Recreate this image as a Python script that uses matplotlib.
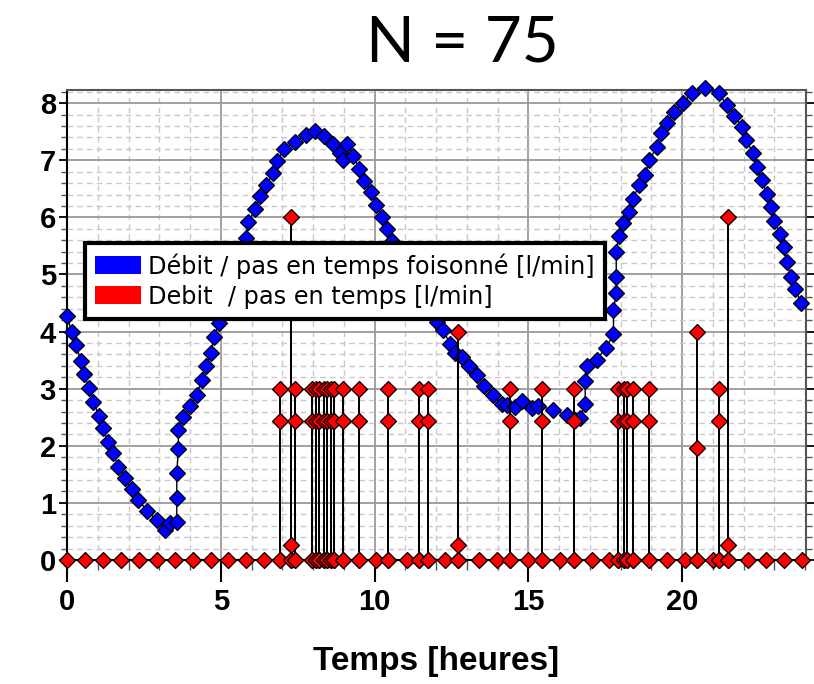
import matplotlib.pyplot as plt
from matplotlib.patches import Patch
from matplotlib.ticker import MultipleLocator

# Débit / pas en temps foisonné [l/min] (bleu)
blue_t = [0.00, 0.15, 0.29, 0.45, 0.55, 0.73, 0.86, 1.04, 1.16, 1.34, 1.51, 1.67,
          1.89, 2.10, 2.32, 2.61, 2.92, 3.19, 3.35, 3.57, 3.57, 3.57, 3.62, 3.62,
          3.78, 3.99, 4.22, 4.38, 4.51, 4.67, 4.78, 4.95, 5.10, 5.25, 5.40, 5.55,
          5.70, 5.82, 5.90, 6.12, 6.26, 6.47, 6.71, 6.84, 7.06, 7.42, 7.77, 8.07,
          8.36, 8.64, 8.88, 8.99, 9.10, 9.31, 9.51, 9.67, 9.89, 10.05, 10.24, 10.42,
          10.56, 10.72, 10.90, 11.08, 11.26, 11.44, 11.62, 11.80, 12.03, 12.24, 12.44,
          12.62, 12.84, 13.06, 13.33, 13.57, 13.85, 14.14, 14.30, 14.57, 14.79, 15.12,
          15.33, 15.80, 16.25, 16.53, 16.69, 16.85, 16.85, 16.91, 17.23, 17.53, 17.77,
          17.77, 17.86, 17.86, 17.86, 17.94, 18.08, 18.29, 18.42, 18.59, 18.80, 18.94,
          19.18, 19.32, 19.51, 19.75, 20.03, 20.32, 20.75, 21.19, 21.46, 21.70, 21.95,
          22.08, 22.31, 22.44, 22.60, 22.76, 22.89, 23.00, 23.19, 23.30, 23.41, 23.54,
          23.68, 23.88]
blue_v = [4.27, 4.00, 3.77, 3.49, 3.25, 3.01, 2.76, 2.53, 2.31, 2.07, 1.87, 1.63,
          1.43, 1.24, 1.05, 0.86, 0.70, 0.53, 0.64, 0.67, 1.08, 1.52, 1.94, 2.28,
          2.51, 2.70, 2.89, 3.16, 3.40, 3.63, 3.90, 4.15, 4.40, 4.65, 4.90, 5.15,
          5.40, 5.63, 5.91, 6.15, 6.37, 6.57, 6.77, 6.99, 7.19, 7.32, 7.44, 7.52,
          7.43, 7.28, 7.12, 7.00, 7.29, 7.08, 6.84, 6.64, 6.45, 6.22, 6.01, 5.80,
          5.59, 5.40, 5.20, 5.02, 4.86, 4.70, 4.55, 4.40, 4.17, 4.03, 3.79,
          3.62, 3.56, 3.39, 3.24, 3.05, 2.89, 2.73, 2.71, 2.68, 2.79, 2.66,
          2.70, 2.63, 2.54, 2.45, 2.48, 2.74, 3.14, 3.40, 3.51, 3.72, 3.95,
          4.38, 4.67, 4.96, 5.40, 5.68, 5.90, 6.10, 6.33, 6.57, 6.75, 7.00,
          7.24, 7.47, 7.66, 7.85, 8.01, 8.17, 8.26, 8.17, 7.97, 7.78, 7.59,
          7.36, 7.12, 6.88, 6.65, 6.41, 6.19, 5.94, 5.71, 5.48, 5.21, 4.96,
          4.74, 4.50]

# Debit / pas en temps [l/min] (rouge)
zero_t = [0.00, 0.59, 1.16, 1.75, 2.34, 2.92, 3.50, 4.09, 4.67, 5.25, 5.82, 6.41,
          10.05, 11.07, 12.30, 13.40, 13.98, 15.00, 16.02, 17.07, 17.61, 19.51,
          20.10, 21.00, 22.16, 22.73, 23.30, 23.90]
evt_t = [6.93, 7.29, 7.43, 7.96, 8.10, 8.21, 8.36, 8.45, 8.59, 8.69, 8.96, 9.48,
         10.45, 11.43, 11.73, 12.72, 14.41, 15.44, 16.47, 17.91, 18.11, 18.21,
         18.42, 18.94, 20.48, 21.19, 21.48]
evt_hi = [3.0, 6.0, 3.0, 3.0, 3.0, 3.0, 3.0, 3.0, 3.0, 3.0, 3.0, 3.0,
          3.0, 3.0, 3.0, 4.0, 3.0, 3.0, 3.0, 3.0, 3.0, 3.0,
          3.0, 3.0, 4.0, 3.0, 6.0]
evt_lo = [2.43, 0.27, 2.43, 2.43, 2.43, 2.43, 2.43, 2.43, 2.43, 2.43, 2.43, 2.43,
          2.43, 2.43, 2.43, 0.27, 2.43, 2.43, 2.43, 2.43, 2.43, 2.43,
          2.43, 2.43, 1.96, 2.43, 0.27]

pts = [(t, [0.0]) for t in zero_t]
pts += [(t, [0.0, hi, lo, 0.0]) for t, hi, lo in zip(evt_t, evt_hi, evt_lo)]
pts.sort(key=lambda p: p[0])
red_t, red_v = [], []
for t, vals in pts:
    for v in vals:
        red_t.append(t)
        red_v.append(v)

fig = plt.figure(figsize=(8.14, 6.84), dpi=100)
ax = fig.add_axes([67/814, 1 - 560/684, (806 - 67)/814, (560 - 90)/684])

ax.plot(blue_t, blue_v, color='black', lw=1, marker='D', ms=8, mfc='#0000ff',
        mec='black', mew=0.9, clip_on=False, zorder=3)
ax.plot(red_t, red_v, color='black', lw=1.4, marker='D', ms=8, mfc='#ff0000',
        mec='black', mew=0.9, clip_on=False, zorder=4)

ax.set_xlim(0, 24.03)
ax.set_ylim(0, 8.23)
ax.xaxis.set_major_locator(MultipleLocator(5))
ax.xaxis.set_minor_locator(MultipleLocator(1))
ax.yaxis.set_major_locator(MultipleLocator(1))
ax.yaxis.set_minor_locator(MultipleLocator(0.2))
ax.grid(which='major', color='#9a9a9a', lw=1.3, ls='-')
ax.grid(which='minor', color='#c8c8c8', lw=1.0, ls=(0, (4, 3)))
ax.set_axisbelow(True)

ax.tick_params(axis='x', which='major', direction='out', length=16, width=1.5,
               labelsize=21, pad=4)
ax.tick_params(axis='x', which='minor', direction='out', length=7, width=1,
               color='#555555')
ax.tick_params(axis='y', which='both', direction='out', left=True, right=True,
               labelright=False)
ax.tick_params(axis='y', which='major', length=6, width=1.3, labelsize=21, pad=2)
ax.tick_params(axis='y', which='minor', length=4, width=1, color='#555555')
for lbl in ax.get_xticklabels() + ax.get_yticklabels():
    lbl.set_fontweight('bold')
    lbl.set_family('Liberation Sans')

for side in ['left', 'bottom']:
    ax.spines[side].set_color('black')
    ax.spines[side].set_linewidth(1.5)
for side in ['top', 'right']:
    ax.spines[side].set_color('#555555')
    ax.spines[side].set_linewidth(1.5)

ax.set_xlabel('Temps [heures]', fontsize=24, fontweight='bold',
              family='Liberation Sans', labelpad=22)

handles = [Patch(facecolor='#0000ff', edgecolor='none',
                 label='Débit / pas en temps foisonné [l/min]'),
           Patch(facecolor='#ff0000', edgecolor='none',
                 label='Debit  / pas en temps [l/min]')]
leg = ax.legend(handles=handles, loc='upper left',
                bbox_to_anchor=(85/814, 1 - 243/684), bbox_transform=fig.transFigure,
                frameon=True, fancybox=False, edgecolor='black', framealpha=1,
                borderaxespad=0, prop={'family': 'DejaVu Sans', 'size': 17.3},
                handlelength=1.9, handleheight=0.8, handletextpad=0.3,
                labelspacing=0.25, borderpad=0.42)
leg.get_frame().set_linewidth(3)
leg.set_zorder(10)

fig.text(462/814, 1 - 44/684, 'N = 75', ha='center', va='center',
         fontsize=46, family='Lato')

fig.savefig('out.png', dpi=100)
